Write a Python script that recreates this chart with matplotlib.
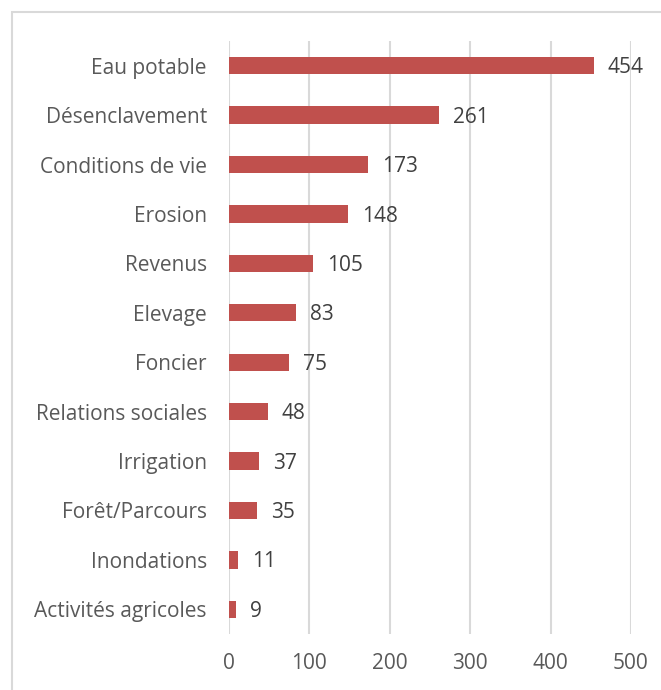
import matplotlib.pyplot as plt
from matplotlib.patches import Rectangle

# --- Data ---------------------------------------------------------------------
CATEGORIES = [
    "Eau potable",
    "Désenclavement",
    "Conditions de vie",
    "Erosion",
    "Revenus",
    "Elevage",
    "Foncier",
    "Relations sociales",
    "Irrigation",
    "Forêt/Parcours",
    "Inondations",
    "Activités agricoles",
]
COUNTS = [454, 261, 173, 148, 105, 83, 75, 48, 37, 35, 11, 9]
X_TICKS = [0, 100, 200, 300, 400, 500]

BAR_COLOR = "#C0504D"
GRID_COLOR = "#D9D9D9"
TEXT_COLOR = "#595959"
LABEL_COLOR = "#404040"
FONT_SIZE = 15

plt.rcParams["font.family"] = ["Open Sans", "DejaVu Sans"]

fig = plt.figure(figsize=(6.61, 6.90), dpi=100)
ax = fig.add_axes([229 / 661, 1 - 634 / 690, 402 / 661, 593 / 690])

positions = list(range(len(CATEGORIES)))
bars = ax.barh(positions, COUNTS, height=0.35, color=BAR_COLOR, zorder=3)

for bar, value in zip(bars, COUNTS):
    ax.annotate(
        str(value),
        xy=(bar.get_width(), bar.get_y() + bar.get_height() / 2),
        xytext=(10, -1.5),
        textcoords="offset points",
        va="center",
        ha="left",
        fontsize=FONT_SIZE,
        color=LABEL_COLOR,
    )

ax.set_yticks(positions)
ax.set_yticklabels(CATEGORIES)
ax.set_ylim(len(CATEGORIES) - 0.5, -0.5)
ax.set_xlim(0, 500)
ax.set_xticks(X_TICKS)

ax.grid(axis="x", color=GRID_COLOR, linewidth=1.5, zorder=0)
ax.tick_params(axis="y", length=0, pad=16, labelsize=FONT_SIZE, labelcolor=TEXT_COLOR)
ax.tick_params(axis="x", length=0, pad=14, labelsize=FONT_SIZE, labelcolor=TEXT_COLOR)
for spine in ax.spines.values():
    spine.set_visible(False)

# light border around the chart area (cropped at the right and bottom)
fig.patches.append(
    Rectangle(
        (12 / 661, -0.1), 1.1, 1 - 12 / 690 + 0.1,
        transform=fig.transFigure, fill=False,
        edgecolor=GRID_COLOR, linewidth=1.5,
    )
)

fig.savefig("out.png", dpi=100)
